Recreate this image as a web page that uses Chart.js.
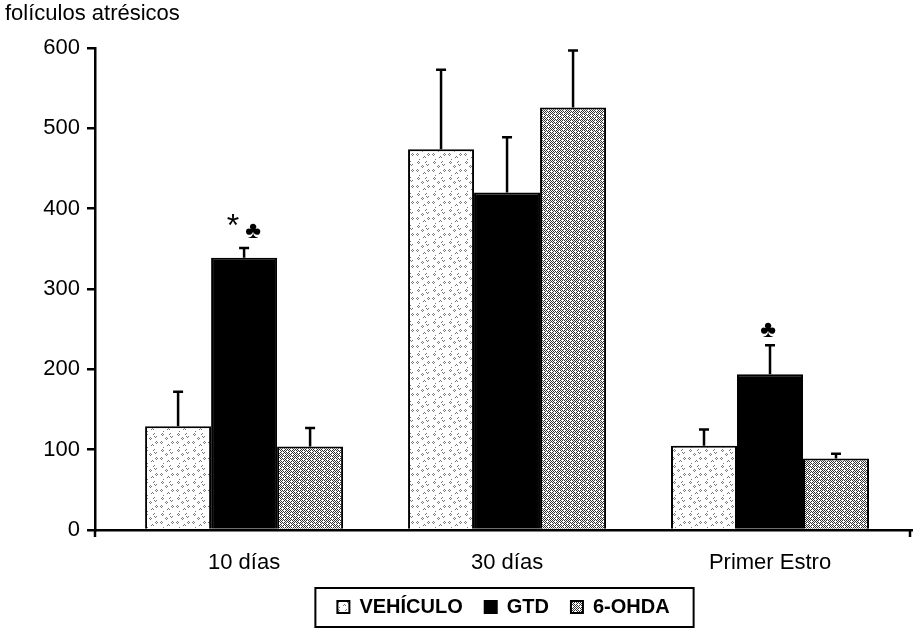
<!DOCTYPE html>
<html>
<head>
<meta charset="utf-8">
<script src="https://cdn.jsdelivr.net/npm/chart.js@4.4.1/dist/chart.umd.min.js"></script>
<style>
  html, body { margin: 0; padding: 0; background: #fff; }
</style>
</head>
<body>
<canvas id="c" width="917" height="638"></canvas>
<script>
// ---- data ----
const categories = ['10 días', '30 días', 'Primer Estro'];
const seriesNames = ['VEHÍCULO', 'GTD', '6-OHDA'];
const vehiculo = [129, 474, 105];
const vehiculoErr = [43, 99, 20];
const gtd = [339, 420, 194];
const gtdErr = [12, 69, 36];
const ohda = [104, 526, 89];
const ohdaErr = [23, 71, 6];
const yMin = 0, yMax = 600, yStep = 100;
const yTitle = 'folículos atrésicos';
// significance marks above the GTD bars, per category
const gtdMarks = [['*', '♣'], [], ['♣']];

const FONT = "'Liberation Sans', Arial, 'DejaVu Sans', sans-serif";

// ---- fill textures ----
function makePattern(rows, palette) {
  const h = rows.length, w = rows[0].length;
  const cv = document.createElement('canvas');
  cv.width = w; cv.height = h;
  const g = cv.getContext('2d');
  g.fillStyle = '#fff';
  g.fillRect(0, 0, w, h);
  for (let y = 0; y < h; y++) {
    for (let x = 0; x < w; x++) {
      const ch = rows[y][x];
      if (palette[ch]) { g.fillStyle = palette[ch]; g.fillRect(x, y, 1, 1); }
    }
  }
  return g.createPattern(cv, 'repeat');
}

const lightSpeckle = makePattern([
  '................',
  '..x.......x.....',
  '.x.x.....x......',
  '..x.............',
  '..........x.x...',
  '......x....x....',
  '.....x.x........',
  '......x.........',
  '................',
  '.x..........x...',
  'x.x........x.x..',
  '.x..........x...',
  '........x.......',
  '.......x.x......',
  '................',
  '...x............'
], { x: '#7a7a7a' });

const denseStipple = makePattern([
  '#.#.#.#.',
  '.#...#.#',
  '#.#.#.#.',
  '.#.#.#..',
  '#...#.#.',
  '.#.#.#.#',
  '#.#...#.',
  '.#.#.#.#'
], { '#': '#333333' });

const toPoints = arr => arr.map((v, i) => ({ x: i, y: v }));

const errors = [vehiculoErr, gtdErr, ohdaErr];

// ---- error bars, marks, legend frame ----
const decor = {
  id: 'decor',
  afterDatasetsDraw(chart) {
    const ctx = chart.ctx;
    const ys = chart.scales.y;
    ctx.save();
    ctx.strokeStyle = '#000';
    ctx.lineWidth = 2.5;
    chart.data.datasets.forEach((ds, di) => {
      const meta = chart.getDatasetMeta(di);
      meta.data.forEach((bar, i) => {
        const v = ds.data[i].y;
        const top = ys.getPixelForValue(v + errors[di][i]);
        ctx.beginPath();
        ctx.moveTo(bar.x, bar.y);
        ctx.lineTo(bar.x, top);
        ctx.moveTo(bar.x - 5, top);
        ctx.lineTo(bar.x + 5, top);
        ctx.stroke();
      });
    });
    // marks over GTD
    const gMeta = chart.getDatasetMeta(1);
    ctx.fillStyle = '#000';
    ctx.textAlign = 'center';
    ctx.textBaseline = 'alphabetic';
    gMeta.data.forEach((bar, i) => {
      const marks = gtdMarks[i];
      if (!marks.length) return;
      const top = ys.getPixelForValue(gtd[i] + gtdErr[i]);
      if (marks.length === 2) {
        ctx.font = '32px ' + FONT;
        ctx.fillText(marks[0], bar.x - 11, top - 12);
        ctx.font = '24px ' + FONT;
        ctx.fillText(marks[1], bar.x + 9, top - 10);
      } else {
        ctx.font = '24px ' + FONT;
        ctx.fillText(marks[0], bar.x - 2, top - 8);
      }
    });
    // axis stubs: y axis runs a little below zero, x axis closes with a tick
    const area = chart.chartArea;
    ctx.lineWidth = 2.5;
    ctx.beginPath();
    ctx.moveTo(area.left, area.bottom);
    ctx.lineTo(area.left, area.bottom + 7);
    ctx.moveTo(area.right - 2, area.bottom);
    ctx.lineTo(area.right - 2, area.bottom + 7);
    ctx.stroke();
    ctx.restore();
  },
  afterDraw(chart) {
    const boxes = chart.legend && chart.legend.legendHitBoxes;
    if (!boxes || !boxes.length) return;
    const first = boxes[0], last = boxes[boxes.length - 1];
    const ctx = chart.ctx;
    ctx.save();
    ctx.strokeStyle = '#000';
    ctx.lineWidth = 2;
    const l = first.left - 22, r = last.left + last.width + 24;
    const t = first.top - 9, b = first.top + first.height + 10;
    ctx.strokeRect(l, t, r - l, b - t);
    ctx.restore();
  }
};

new Chart(document.getElementById('c'), {
  type: 'bar',
  data: {
    datasets: [
      { label: seriesNames[0], data: toPoints(vehiculo), backgroundColor: lightSpeckle, borderColor: '#000', borderWidth: 2 },
      { label: seriesNames[1], data: toPoints(gtd), backgroundColor: '#000', borderColor: '#000', borderWidth: 2 },
      { label: seriesNames[2], data: toPoints(ohda), backgroundColor: denseStipple, borderColor: '#000', borderWidth: 2 }
    ]
  },
  options: {
    responsive: false,
    devicePixelRatio: 1,
    animation: false,
    layout: { padding: { left: 5, right: 5, top: 0, bottom: 11 } },
    datasets: { bar: { categoryPercentage: 0.753, barPercentage: 1.0, borderSkipped: 'start' } },
    scales: {
      x: {
        type: 'linear',
        offset: false,
        min: -0.567,
        max: 2.54,
        afterBuildTicks(s) { s.ticks = categories.map((c, i) => ({ value: i })); },
        afterFit(s) { s.height = 45; },
        grid: { display: true, drawOnChartArea: false, drawTicks: false },
        border: { display: true, color: '#000', width: 2.5 },
        ticks: {
          padding: 20,
          color: '#000',
          font: { size: 22, family: FONT },
          callback: v => categories[v] ?? ''
        }
      },
      y: {
        min: yMin,
        max: yMax,
        afterFit(s) { s.width = 90; },
        grid: { display: true, drawOnChartArea: false, drawTicks: true, tickLength: 8, color: '#000', lineWidth: 2.5 },
        border: { display: true, color: '#000', width: 2.5 },
        ticks: {
          stepSize: yStep,
          padding: 7,
          color: '#000',
          font: { size: 22, family: FONT }
        }
      }
    },
    plugins: {
      title: {
        display: true,
        text: yTitle,
        align: 'start',
        color: '#000',
        font: { size: 22, family: FONT, weight: 'normal' },
        padding: { top: 1, bottom: 20.6 }
      },
      legend: {
        position: 'bottom',
        fullSize: false,
        labels: {
          color: '#000',
          boxWidth: 12,
          boxHeight: 12,
          padding: 22,
          font: { size: 20, family: FONT, weight: 'bold' }
        }
      },
      tooltip: { enabled: false }
    }
  },
  plugins: [decor]
});
</script>
</body>
</html>
